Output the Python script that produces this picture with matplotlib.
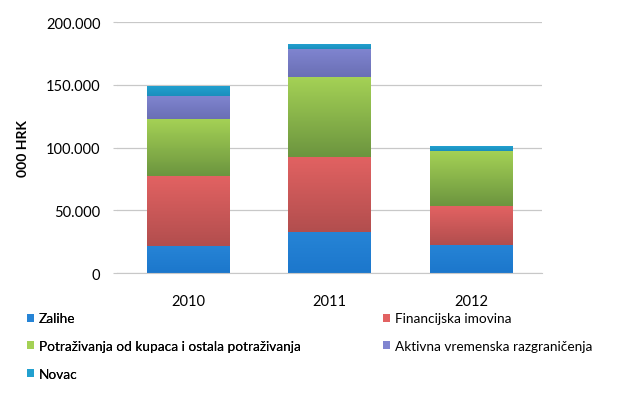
import numpy as np
import matplotlib
matplotlib.use("Agg")
import matplotlib.pyplot as plt
from matplotlib.colors import LinearSegmentedColormap
from matplotlib.patches import Patch

plt.rcParams['font.family'] = ['Lato', 'DejaVu Sans']

# Data (000 HRK)
years = ["2010", "2011", "2012"]
zalihe = [21.5, 32.4, 22.6]
financijska = [55.6, 60.3, 31.0]
potrazivanja = [45.4, 63.5, 43.3]
aktivna = [18.6, 22.4, 0.5]
novac = [7.4, 3.9, 3.7]

series = [
    ("Zalihe", zalihe, "#2684d6", "#1c77cc"),
    ("Financijska imovina", financijska, "#e26262", "#b24e4e"),
    ("Potraživanja od kupaca i ostala potraživanja", potrazivanja, "#a4d155", "#6c953f"),
    ("Aktivna vremenska razgraničenja", aktivna, "#8085d0", "#6a6fb5"),
    ("Novac", novac, "#22a0cf", "#1a8fbd"),
]

fig = plt.figure(figsize=(6.33, 4.06), dpi=100)
ax = fig.add_axes([0.185, 0.325, 0.671, 0.618])

x = np.arange(len(years))
width = 0.58
bottom = np.zeros(len(years))
handles = []
for name, vals, top_c, bot_c in series:
    vals = np.array(vals) * 1000
    cmap = LinearSegmentedColormap.from_list(name, [bot_c, top_c])
    for xi, b, v in zip(x, bottom, vals):
        if v <= 0:
            continue
        grad = np.linspace(0, 1, 64).reshape(-1, 1)
        ax.imshow(grad, cmap=cmap, origin="lower", aspect="auto",
                  extent=(xi - width / 2, xi + width / 2, b, b + v), zorder=2)
    bottom += vals
    handles.append(Patch(facecolor=top_c, edgecolor="none", label=name))

ax.set_xlim(-0.5, len(years) - 0.5)
ax.set_ylim(0, 200000)
ax.set_yticks(np.arange(0, 200001, 50000))
ax.set_yticklabels(["0", "50.000", "100.000", "150.000", "200.000"])
ax.set_xticks(x)
ax.set_xticklabels(years)
ax.grid(axis="y", color="#c8c8c8", linewidth=0.9, zorder=0)
ax.set_axisbelow(True)
for s in ["top", "right", "left"]:
    ax.spines[s].set_visible(False)
ax.spines["bottom"].set_color("#c8c8c8")
ax.tick_params(axis="y", length=3, color="#c8c8c8", labelsize=10.5, pad=9)
ax.tick_params(axis="x", length=0, labelsize=10.5, pad=15)
ax.set_ylabel("000 HRK", fontsize=10, fontweight="bold", labelpad=12)

# Legend split in two columns placed independently
leg_kw = dict(loc="upper left", frameon=False, fontsize=9.8, handlelength=0.55,
              handleheight=0.55, handletextpad=0.35, labelspacing=1.15,
              borderaxespad=0, borderpad=0)
left = [handles[0], handles[2], handles[4]]
right = [handles[1], handles[3]]
leg1 = fig.legend(left, [h.get_label() for h in left],
                  bbox_to_anchor=(0.042, 0.228), **leg_kw)
fig.legend(right, [h.get_label() for h in right],
           bbox_to_anchor=(0.605, 0.228), **leg_kw)
fig.add_artist(leg1)

fig.savefig("out.png", dpi=100)
